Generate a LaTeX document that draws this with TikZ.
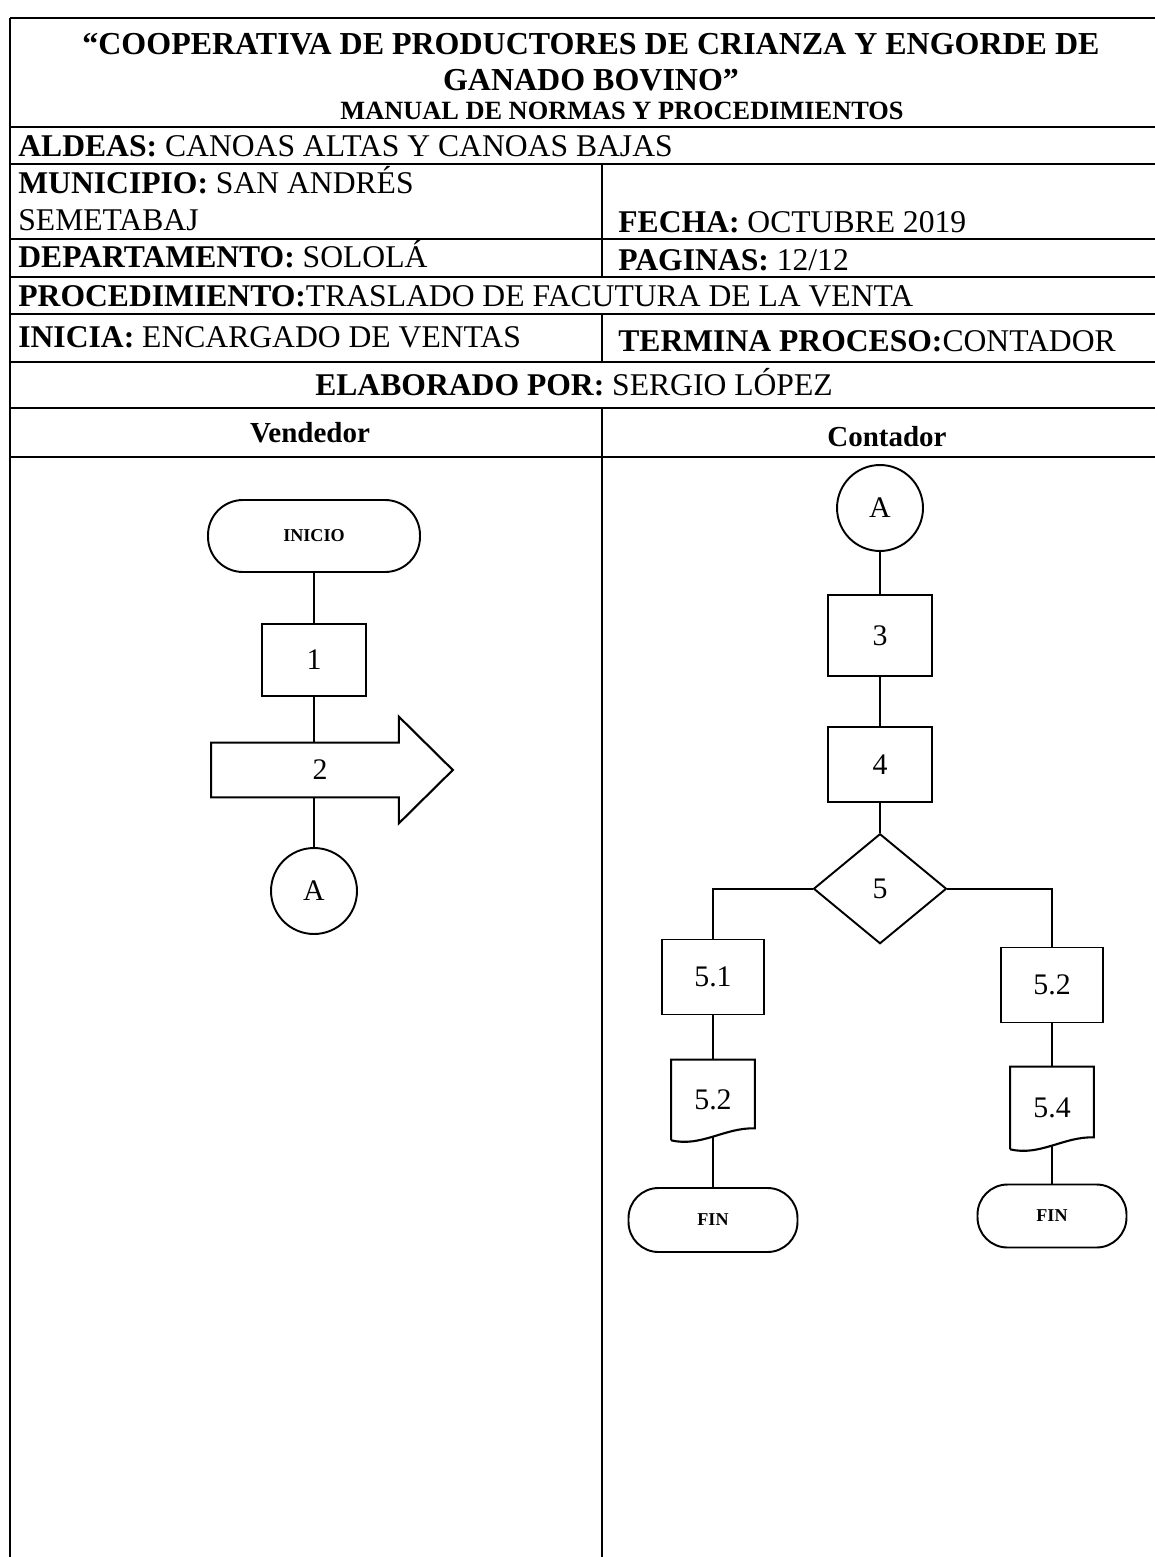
\documentclass[tikz,border=0pt]{standalone}
\usepackage{fontspec}
\setmainfont{Liberation Serif}
\usetikzlibrary{positioning,shapes.geometric,calc}

\begin{document}
\begin{tikzpicture}[
    x=0.02cm, y=-0.02cm,
    rule/.style={line width=1.3pt},
    line/.style={line width=1.2pt},
    hdr/.style={anchor=base west, inner sep=0pt, font=\fontsize{18}{20}\selectfont},
    htitle/.style={anchor=base, inner sep=0pt, font=\fontsize{18.2}{20}\selectfont\bfseries},
    lane/.style={anchor=base, inner sep=0pt, font=\fontsize{16.5}{18}\selectfont\bfseries},
    term/.style={rectangle, draw, line width=1.1pt, rounded corners=0.6cm, font=\fontsize{10.3}{12}\selectfont\bfseries},
    box/.style={rectangle, draw, line width=1.1pt, minimum width=2.08cm, minimum height=1.5cm, font=\fontsize{17}{19}\selectfont},
    conn/.style={circle, draw, line width=1.1pt, minimum size=1.72cm, inner sep=0pt, font=\fontsize{17}{19}\selectfont},
    decision/.style={diamond, draw, line width=1.1pt, minimum width=2.66cm, minimum height=2.2cm, inner sep=0pt, font=\fontsize{17}{19}\selectfont},
    shaft/.style={rectangle, minimum width=3.74cm, minimum height=1.08cm, font=\fontsize{17}{19}\selectfont},
    docbox/.style={rectangle, minimum width=1.66cm, minimum height=1.6cm, font=\fontsize{17}{19}\selectfont}
]
\useasboundingbox (0,0) rectangle (1155,1557);
\clip (0,0) rectangle (1155,1557);

% Table rules
\foreach \y in {18,127,164,239,277,314,362,408,457}
    \draw[rule] (10,\y) -- (1170,\y);
\draw[rule] (10,18) -- (10,1570);
\draw[rule] (602,164) -- (602,277);
\draw[rule] (602,314) -- (602,362);
\draw[rule] (602,408) -- (602,1570);

% Header texts
\node[htitle] (title1) at (591,55) {“COOPERATIVA DE PRODUCTORES DE CRIANZA Y ENGORDE DE};
\node[htitle] (title2) at (591,91) {GANADO BOVINO”};
\node[htitle, font=\fontsize{15}{17}\selectfont\bfseries] (manual) at (622,120) {MANUAL DE NORMAS Y PROCEDIMIENTOS};
\node[hdr] (aldeas) at (18,157) {\textbf{ALDEAS:} CANOAS ALTAS Y CANOAS BAJAS};
\node[hdr] (municipio) at (18,194) {\textbf{MUNICIPIO:} SAN ANDRÉS};
\node[hdr] (semetabaj) at (18,231) {SEMETABAJ};
\node[hdr] (fecha) at (618,233) {\textbf{FECHA:} OCTUBRE 2019};
\node[hdr] (depto) at (18,268) {\textbf{DEPARTAMENTO:} SOLOLÁ};
\node[hdr] (paginas) at (618,271) {\textbf{PAGINAS:} 12/12};
\node[hdr] (proc) at (18,307) {\textbf{PROCEDIMIENTO:}TRASLADO DE FACUTURA DE LA VENTA};
\node[hdr] (inicia) at (18,348) {\textbf{INICIA:} ENCARGADO DE VENTAS};
\node[hdr] (termina) at (618,352) {\textbf{TERMINA PROCESO:}CONTADOR};
\node[hdr, anchor=base] (elaborado) at (574,396) {\textbf{ELABORADO POR:} SERGIO LÓPEZ};
\node[lane] (vendedor) at (310,442) {Vendedor};
\node[lane] (contador) at (887,446) {Contador};

% Vendedor lane
\node[term, rounded corners=0.7cm, minimum width=4.24cm, minimum height=1.44cm] (inicio) at (314,536) {INICIO};
\node[box, minimum height=1.44cm, below=1cm of inicio] (p1) {1};
\node[shaft] (p2) at (305,770) {\hspace{0.6cm}2};
\node[conn] (a1) at (314,891) {A};

% send arrow outline round the shaft
\draw[line] (p2.north west) -- (p2.north east) -- ++(0,0.52cm) -- ($(p2.east)+(1.08cm,0)$)
    -- ([yshift=-0.52cm]p2.south east) -- (p2.south east) -- (p2.south west) -- cycle;

% Contador lane
\node[conn] (a2) at (880,508) {A};
\node[box, minimum height=1.62cm, below=0.84cm of a2] (p3) {3};
\node[box, below=0.98cm of p3] (p4) {4};
\node[decision, below=0.6cm of p4] (p5) {5};
\node[box, minimum width=2.04cm] (p51) at (713,977) {5.1};
\node[docbox] (d52) at (713,1100) {5.2};
\node[term, minimum width=3.38cm, minimum height=1.28cm] (fin1) at (713,1220) {FIN};
\node[box, minimum width=2.04cm] (p52) at (1052,985) {5.2};
\node[docbox, minimum height=1.64cm] (d54) at (1052,1108) {5.4};
\node[term, minimum width=2.98cm, minimum height=1.26cm] (fin2) at (1052,1216) {FIN};

% Document outlines
\foreach \d in {d52,d54}
    \draw[line] (\d.south west) -- (\d.north west) -- (\d.north east) -- ([yshift=0.24cm]\d.south east)
        .. controls ([xshift=-0.6cm,yshift=0.26cm]\d.south east) and ([xshift=0.6cm,yshift=-0.14cm]\d.south west) .. (\d.south west);

% Connectors
\draw[line] (inicio) -- (p1);
\draw[line] (p1) -- (p1 |- p2.north);
\draw[line] (a1 |- p2.south) -- (a1);
\draw[line] (a2) -- (p3);
\draw[line] (p3) -- (p4);
\draw[line] (p4) -- (p5);
\draw[line] (p5.west) -| (p51);
\draw[line] (p51) -- (d52);
\draw[line] ([yshift=0.075cm]d52.south) -- (fin1);
\draw[line] (p5.east) -| (p52);
\draw[line] (p52) -- (d54);
\draw[line] ([yshift=0.075cm]d54.south) -- (fin2);

\end{tikzpicture}
\end{document}
